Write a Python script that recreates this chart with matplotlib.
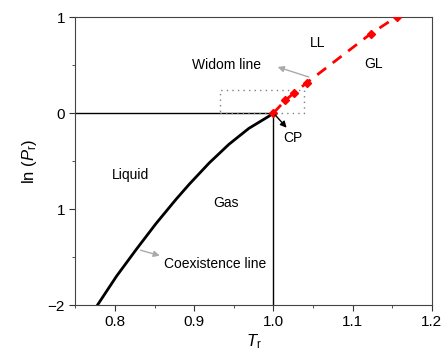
import numpy as np
import matplotlib
matplotlib.use('Agg')
import matplotlib.pyplot as plt

plt.rcParams['font.family'] = ['Liberation Sans', 'DejaVu Sans']
plt.rcParams['mathtext.fontset'] = 'custom'
plt.rcParams['mathtext.rm'] = 'Liberation Sans'
plt.rcParams['mathtext.it'] = 'Liberation Sans:italic'

# coexistence line (Tr, ln Pr)
coex_T = [0.778, 0.802, 0.827, 0.852, 0.877, 0.894, 0.919, 0.944, 0.969, 0.994, 1.0]
coex_lnP = [-2.0, -1.70, -1.42, -1.15, -0.90, -0.74, -0.52, -0.325, -0.160, -0.035, 0.0]

# Widom line points (red diamonds)
widom_T = [1.0, 1.015, 1.026, 1.042, 1.123, 1.156]
widom_lnP = [0.0, 0.132, 0.209, 0.314, 0.827, 1.005]

# dotted box around the near-critical region
box_T = [0.9325, 1.039]
box_lnP = [0.0, 0.244]

xticks = [0.8, 0.9, 1.0, 1.1, 1.2]
xticklabels = ['0.8', '0.9', '1.0', '1.1', '1.2']
yticks = [1, 0, -1, -2]
yticklabels = ['1', '0', '1', '\u22122']

fig = plt.figure(figsize=(4.43, 3.58), dpi=100)
ax = fig.add_axes([0.170, 0.148, 0.805, 0.8045])

ax.plot(coex_T, coex_lnP, color='black', lw=2)
ax.plot([0.75, 1.0], [0, 0], color='black', lw=1)
ax.plot([1.0, 1.0], [-2, 0], color='black', lw=1)
ax.plot(widom_T, widom_lnP, color='red', lw=2, ls=(0, (4, 3)),
        marker='D', ms=4.3, mfc='red', mec='red', zorder=3)
ax.plot([box_T[0], box_T[1], box_T[1], box_T[0], box_T[0]],
        [box_lnP[0], box_lnP[0], box_lnP[1], box_lnP[1], box_lnP[0]],
        color='gray', lw=1, ls=(0, (1, 3)))

fs = 10
ax.text(0.8196, -0.646, 'Liquid', fontsize=fs, ha='center', va='center')
ax.text(0.9396, -0.942, 'Gas', fontsize=fs, ha='center', va='center')
ax.text(0.941, 0.495, 'Widom line', fontsize=fs, ha='center', va='center')
ax.text(1.056, 0.733, 'LL', fontsize=fs, ha='center', va='center')
ax.text(1.126, 0.513, 'GL', fontsize=fs, ha='center', va='center')
ax.text(1.025, -0.262, 'CP', fontsize=fs, ha='center', va='center')
ax.text(0.927, -1.571, 'Coexistence line', fontsize=fs, ha='center', va='center')

ax.annotate('', xy=(1.002, 0.488), xytext=(1.048, 0.366),
            arrowprops=dict(arrowstyle='-|>', color='#aaaaaa', lw=1, mutation_scale=9))
ax.annotate('', xy=(0.860, -1.494), xytext=(0.829, -1.421),
            arrowprops=dict(arrowstyle='-|>', color='#aaaaaa', lw=1, mutation_scale=9))
ax.annotate('', xy=(1.019, -0.175), xytext=(1.0, 0.0),
            arrowprops=dict(arrowstyle='-|>', color='black', lw=1, mutation_scale=9))

ax.set_xlim(0.75, 1.2)
ax.set_ylim(-2, 1)
ax.set_xticks(xticks)
ax.set_xticklabels(xticklabels)
ax.set_yticks(yticks)
ax.set_yticklabels(yticklabels)
ax.set_xticks(np.arange(0.75, 1.21, 0.05), minor=True)
ax.set_yticks(np.arange(-2, 1.01, 0.5), minor=True)
ax.tick_params(which='both', direction='out', labelsize=11, color='#333333')
ax.tick_params(which='major', length=4)
ax.tick_params(which='minor', length=2.5)
for s in ax.spines.values():
    s.set_color('#444444')

ax.set_xlabel(r'$T_\mathrm{r}$', fontsize=12, labelpad=2)
ax.set_ylabel(r'ln ($P_\mathrm{r}$)', fontsize=12, labelpad=6)

fig.savefig('out.png', dpi=100)
